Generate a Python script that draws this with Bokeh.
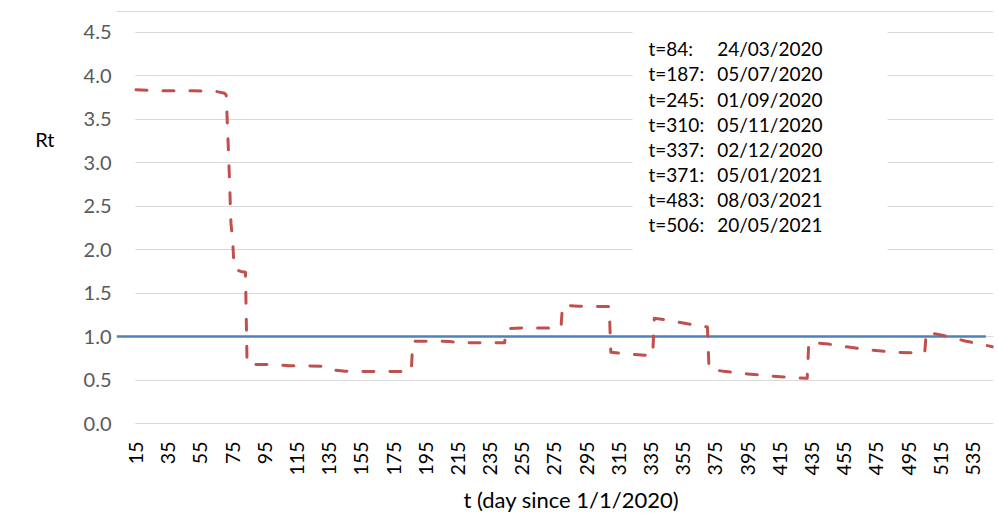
import math
from bokeh.plotting import figure
from bokeh.models import (FixedTicker, Range1d, PrintfTickFormatter, LinearAxis,
                          Title, Span)
from bokeh.embed import file_html
from bokeh.resources import INLINE
from bokeh.core.properties import value

# ---------------- data ----------------
t_day = [15, 30, 50, 65, 70, 71, 72, 73, 74, 75, 76, 80, 83,
         84, 100, 110, 130, 134, 138, 145, 186,
         187, 210, 215, 244,
         245, 255, 279,
         280, 290, 309,
         310, 320, 336,
         337, 345, 360, 370,
         371, 380, 395, 410, 432,
         433, 445, 455, 470, 485, 505,
         506, 515, 530, 548]
rt = [3.84, 3.83, 3.83, 3.82, 3.80, 3.78, 3.35, 2.85, 2.30, 2.12, 1.78, 1.75, 1.74,
      0.68, 0.678, 0.665, 0.66, 0.655, 0.615, 0.60, 0.598,
      0.947, 0.945, 0.93, 0.929,
      1.09, 1.10, 1.10,
      1.36, 1.35, 1.345,
      0.82, 0.80, 0.78,
      1.21, 1.19, 1.14, 1.11,
      0.63, 0.60, 0.57, 0.545, 0.52,
      0.935, 0.915, 0.885, 0.85, 0.82, 0.81,
      1.05, 1.02, 0.95, 0.88]

threshold_t = [3, 543]
threshold_rt = [1.0, 1.0]

x_ticks = [15, 35, 55, 75, 95, 115, 135, 155, 175, 195, 215, 235, 255, 275,
           295, 315, 335, 355, 375, 395, 415, 435, 455, 475, 495, 515, 535]
y_ticks = [0.0, 0.5, 1.0, 1.5, 2.0, 2.5, 3.0, 3.5, 4.0, 4.5]

ann_t = ["t=84:", "t=187:", "t=245:", "t=310:", "t=337:", "t=371:", "t=483:", "t=506:"]
ann_date = ["24/03/2020", "05/07/2020", "01/09/2020", "05/11/2020",
            "02/12/2020", "05/01/2021", "08/03/2021", "20/05/2021"]

y_title = "Rt"
x_title = "t (day since 1/1/2020)"

# ---------------- layout ----------------
PX_PER_UNIT = 86.9          # vertical pixels per Rt unit
Y0_PX = 423                 # canvas y of Rt = 0
X_START, X_END = 2.885, 547.75
Y_START = -(427 - Y0_PX) / PX_PER_UNIT
Y_END = (Y0_PX - 10) / PX_PER_UNIT
FONT = "Lato"

p = figure(width=998, height=519, x_range=Range1d(X_START, X_END),
           y_range=Range1d(Y_START, Y_END), output_backend="svg",
           toolbar_location=None, min_border_left=116, min_border_right=5,
           min_border_top=10, min_border_bottom=92)
p.outline_line_color = None
p.background_fill_color = "white"
p.border_fill_color = "white"


def bare(axis):
    axis.axis_line_color = None
    axis.major_tick_line_color = None
    axis.minor_tick_line_color = None
    axis.major_tick_out = 0
    axis.major_tick_in = 0
    axis.minor_tick_out = 0
    axis.minor_tick_in = 0


# x axis
xa = p.xaxis[0]
bare(xa)
xa.ticker = FixedTicker(ticks=x_ticks)
xa.major_label_orientation = math.pi / 2
xa.major_label_standoff = 14
xa.major_label_text_font = FONT
xa.major_label_text_font_size = "19.5px"
xa.major_label_text_color = "#000000"

# y axis
ya = p.yaxis[0]
bare(ya)
ya.ticker = FixedTicker(ticks=y_ticks)
ya.formatter = PrintfTickFormatter(format="%.1f")
ya.major_label_standoff = 5
ya.major_label_text_font = FONT
ya.major_label_text_font_size = "20px"
ya.major_label_text_color = "#595959"

# y title "Rt": horizontal, placed at Rt ~3.27 left of the tick labels
RT_POS = 3.27
rt_axis = LinearAxis(ticker=FixedTicker(ticks=[RT_POS]),
                     major_label_overrides={RT_POS: y_title})
bare(rt_axis)
rt_axis.major_label_standoff = 26
rt_axis.major_label_text_font = FONT
rt_axis.major_label_text_font_size = "20px"
rt_axis.major_label_text_color = "#000000"
p.add_layout(rt_axis, "left")

# x title
p.add_layout(Title(text=x_title, align="left", offset=347, text_font=FONT,
                   text_font_size="22px", text_font_style="normal",
                   text_color="#000000"), "below")

# grid
p.xgrid.visible = False
p.ygrid.ticker = FixedTicker(ticks=y_ticks)
p.ygrid.grid_line_color = "#D9D9D9"
p.ygrid.grid_line_width = 1

# masks: left strip (gridlines start at first category) and text box background
p.quad(left=[X_START], right=[14.6], bottom=[Y_START], top=[Y_END],
       fill_color="white", line_color=None)
p.quad(left=[323.5], right=[481.9], bottom=[1.8], top=[Y_END],
       fill_color="white", line_color=None)

# series
p.line(threshold_t, threshold_rt, line_color="#4F81BD", line_width=2.5)
p.line(t_day, rt, line_color="#C0504D", line_width=3, line_dash="11 16",
       line_cap="round", line_join="round")

# annotation text box
row_y = [(Y0_PX - (48.3 + 25.1 * i)) / PX_PER_UNIT for i in range(len(ann_t))]
p.text(x=[333.4] * len(ann_t), y=row_y, text=ann_t, text_font=value(FONT),
       text_font_size="19px", text_baseline="middle", text_align="left",
       text_color="#000000")
p.text(x=[441.5] * len(ann_date), y=row_y, text=ann_date, text_font=value(FONT),
       text_font_size="19px", text_baseline="middle", text_align="right",
       text_color="#000000")

# chart-area top border
p.add_layout(Span(location=(Y0_PX - 11) / PX_PER_UNIT, dimension="width",
                  line_color="#D9D9D9", line_width=1))

open("out.html", "w").write(file_html(p, INLINE))
